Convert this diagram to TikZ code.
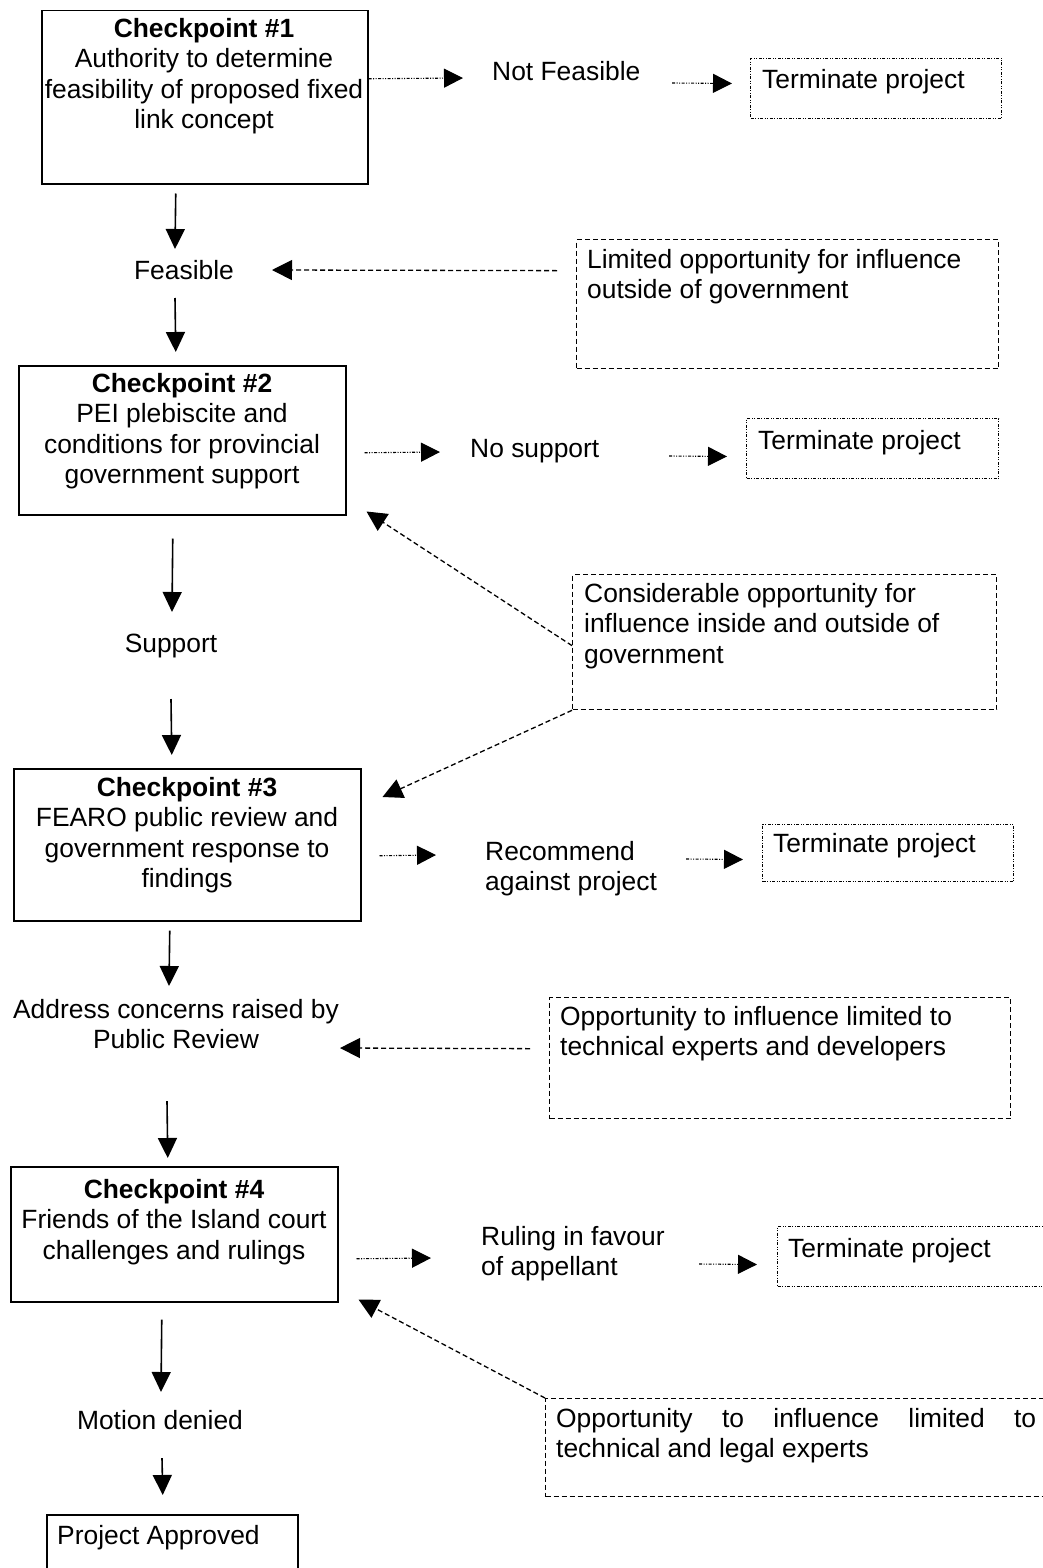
\documentclass[tikz,border=0pt]{standalone}
\usepackage{fontspec}
\setmainfont{Liberation Sans}
\usetikzlibrary{arrows.meta}
\newcommand\chartfont{\fontsize{26.4}{30.5}\selectfont}

\tikzset{
  solidbox/.style={draw, line width=1.5pt, inner sep=0pt, anchor=north west},
  termbox/.style={draw, line width=1pt,
    dash pattern=on 3pt off 1.5pt on 1pt off 1.5pt on 1pt off 1.5pt,
    inner sep=0pt, anchor=north west},
  infobox/.style={draw, line width=1.3pt, dash pattern=on 5pt off 3pt,
    inner sep=0pt, anchor=north west},
  txt/.style={inner sep=0pt, font=\chartfont, align=center},
  ltxt/.style={inner sep=0pt, font=\chartfont, align=left},
  flow/.style={line width=1.6pt, -{Triangle[length=20pt,width=19pt]}},
  outcome/.style={line width=1.1pt,
    dash pattern=on 3pt off 1.5pt on 1pt off 1.5pt on 1pt off 1.5pt,
    -{Triangle[length=19pt,width=19pt]}},
  influence/.style={line width=1.3pt, dash pattern=on 5pt off 3pt,
    -{Triangle[length=20pt,width=20pt]}},
}

\begin{document}
\begin{tikzpicture}[x=1pt, y=-1pt]
\useasboundingbox (0,0) rectangle (1043,1568);
\clip (0,0) rectangle (1043,1568);
\fill[white] (0,0) rectangle (1043,1568);

% ---- frames ----
\node[solidbox, minimum width=326, minimum height=173] (cp1) at (41,10) {};
\node[termbox, minimum width=251, minimum height=60] (term1) at (750,58) {};
\node[infobox, minimum width=422, minimum height=129] (lim) at (576,239) {};
\node[solidbox, minimum width=327, minimum height=149] (cp2) at (18,365) {};
\node[termbox, minimum width=252, minimum height=60] (term2) at (746,418) {};
\node[infobox, minimum width=424, minimum height=135] (cons) at (572,574) {};
\node[solidbox, minimum width=347, minimum height=152] (cp3) at (13,768) {};
\node[termbox, minimum width=251, minimum height=57] (term3) at (762,824) {};
\node[infobox, minimum width=461, minimum height=121] (opp3) at (549,997) {};
\node[solidbox, minimum width=327, minimum height=135] (cp4) at (10,1166) {};
\node[termbox, minimum width=290, minimum height=60] (term4) at (777,1226) {};
\node[infobox, minimum width=520, minimum height=98] (opp4) at (545,1398) {};
\node[solidbox, minimum width=251, minimum height=80] (appr) at (46,1514) {};

% ---- texts ----
\node[txt, anchor=north] (cp1t) at (204,18)
  {\textbf{Checkpoint \#1}\\Authority to determine\\feasibility of proposed fixed\\link concept};
\node[txt, anchor=base west] (nf) at (492,81) {Not Feasible};
\node[txt, anchor=base west] (term1t) at (762,89) {Terminate project};
\node[txt, anchor=base] (feas) at (184,279) {Feasible};
\node[ltxt, anchor=north west] (limt) at (587,249)
  {Limited opportunity for influence\\outside of government};

\node[txt, anchor=north] (cp2t) at (182,373)
  {\textbf{Checkpoint \#2}\\PEI plebiscite and\\conditions for provincial\\government support};
\node[txt, anchor=base west] (ns) at (470,457) {No support};
\node[txt, anchor=base west] (term2t) at (758,449) {Terminate project};
\node[ltxt, anchor=north west] (const) at (584,583)
  {Considerable opportunity for\\influence inside and outside of\\government};
\node[txt, anchor=base] (sup) at (171,652) {Support};

\node[txt, anchor=north] (cp3t) at (187,777)
  {\textbf{Checkpoint \#3}\\FEARO public review and\\government response to\\findings};
\node[ltxt, anchor=north west] (rec) at (485,841) {Recommend\\against project};
\node[txt, anchor=base west] (term3t) at (773,852) {Terminate project};
\node[txt, anchor=north] (addr) at (176,999) {Address concerns raised by\\Public Review};
\node[ltxt, anchor=north west] (opp3t) at (560,1006)
  {Opportunity to influence limited to\\technical experts and developers};

\node[txt, anchor=north] (cp4t) at (174,1179)
  {\textbf{Checkpoint \#4}\\Friends of the Island court\\challenges and rulings};
\node[ltxt, anchor=north west] (rul) at (481,1226) {Ruling in favour\\of appellant};
\node[txt, anchor=base west] (term4t) at (788,1257) {Terminate project};
\node[inner sep=0pt, font=\chartfont, text width=480pt, align=justify, anchor=north west] (opp4t) at (556,1408)
  {Opportunity to influence limited to\linebreak technical and legal experts};
\node[txt, anchor=base] (mot) at (160,1429) {Motion denied};
\node[txt, anchor=base west] (apprt) at (57,1544) {Project Approved};

% ---- main flow ----
\draw[flow] ([xshift=-29pt,yshift=-9pt]cp1.south) -- ([xshift=-9pt,yshift=30pt]feas.base);
\draw[flow] ([xshift=-9pt,yshift=-19pt]feas.base) -- ([xshift=-6.5pt,yshift=13pt]cp2.north);
\draw[flow] ([xshift=-9.5pt,yshift=-23pt]cp2.south) -- ([xshift=1pt,yshift=40pt]sup.base);
\draw[flow] ([yshift=-47pt]sup.base) -- ([xshift=-15.5pt,yshift=13pt]cp3.north);
\draw[flow] ([xshift=-17.5pt,yshift=-9pt]cp3.south) -- ([xshift=-7pt,yshift=13pt]addr.north);
\draw[flow] ([xshift=-9pt,yshift=-102pt]addr.north) -- ([xshift=-6.5pt,yshift=8pt]cp4.north);
\draw[flow] ([xshift=-12.5pt,yshift=-17pt]cp4.south) -- ([xshift=1pt,yshift=37pt]mot.base);
\draw[flow] ([xshift=2pt,yshift=-29pt]mot.base) -- ([xshift=-9.5pt,yshift=19pt]appr.north);

% ---- negative outcomes ----
\draw[outcome] ([yshift=18.5pt]cp1.east) -- ([xshift=-29pt,yshift=3pt]nf.base west);
\draw[outcome] ([xshift=180pt,yshift=-2pt]nf.base west) -- ([xshift=-18pt,yshift=5pt]term1.west);
\draw[outcome] ([xshift=18pt,yshift=-12.5pt]cp2.east) -- ([xshift=-30pt,yshift=5pt]ns.base west);
\draw[outcome] ([xshift=199pt,yshift=1pt]ns.base west) -- ([xshift=-19pt,yshift=-8pt]term2.west);
\draw[outcome] ([xshift=18pt,yshift=-11pt]cp3.east) -- ([xshift=-49pt,yshift=-14pt]rec.north west);
\draw[outcome] ([xshift=201pt,yshift=-18pt]rec.north west) -- ([xshift=-19pt,yshift=-6.5pt]term3.west);
\draw[outcome] ([xshift=18pt,yshift=-24.5pt]cp4.east) -- ([xshift=-50pt,yshift=-32pt]rul.north west);
\draw[outcome] ([xshift=218pt,yshift=-38pt]rul.north west) -- ([xshift=-20pt,yshift=-8pt]term4.west);

% ---- opportunities for influence ----
\draw[influence] ([xshift=-19pt,yshift=33.5pt]lim.west) -- ([xshift=88pt,yshift=9pt]feas.base);
\draw[influence] ([yshift=-3.5pt]cons.west) -- ([xshift=20pt,yshift=4pt]cp2.south east);
\draw[influence] (cons.south west) -- ([xshift=21pt,yshift=-29pt]cp3.north east);
\draw[influence] ([xshift=-19pt,yshift=9.5pt]opp3.west) -- ([xshift=164pt,yshift=-49pt]addr.north);
\draw[influence] (opp4.north west) -- ([xshift=20pt,yshift=3pt]cp4.south east);
\end{tikzpicture}
\end{document}
